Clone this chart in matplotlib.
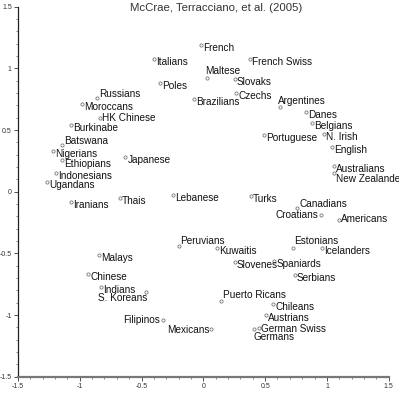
import numpy as np
import matplotlib
import matplotlib.pyplot as plt
from matplotlib.ticker import MultipleLocator, FuncFormatter

matplotlib.use("Agg")

plt.rcParams['font.family'] = ['Liberation Sans', 'DejaVu Sans']
plt.rcParams['axes.unicode_minus'] = False

# 各国名称及坐标
names = ["French", "Italians", "Maltese", "French Swiss", "Slovaks", "Poles", "Czechs",
         "Brazilians", "Argentines", "Danes", "Belgians", "Portuguese", "N. Irish", "English",
         "Australians", "New Zealanders", "Russians", "Moroccans", "HK Chinese", "Burkinabe",
         "Batswana", "Nigerians", "Ethiopians", "Japanese", "Indonesians", "Ugandans",
         "Iranians", "Thais", "Lebanese", "Turks", "Canadians", "Croatians", "Americans",
         "Peruvians", "Kuwaitis", "Estonians", "Icelanders", "Slovenes", "Spaniards",
         "Serbians", "Malays", "Chinese", "Indians", "S. Koreans", "Puerto Ricans",
         "Chileans", "Filipinos", "Austrians", "Mexicans", "German Swiss", "Germans"]
x_vals = [-0.019, -0.396, 0.028, 0.380, 0.254, -0.350, 0.265,
          -0.075, 0.618, 0.831, 0.882, 0.491, 0.977, 1.041,
          1.060, 1.060, -0.860, -0.979, -0.836, -1.070,
          -1.143, -1.214, -1.141, -0.631, -1.189, -1.262,
          -1.070, -0.674, -0.243, 0.383, 0.758, 0.950, 1.100,
          -0.194, 0.108, 0.728, 0.958, 0.254, 0.574,
          0.742, -0.841, -0.933, -0.825, -0.466, 0.146,
          0.566, -0.328, 0.505, 0.060, 0.451, 0.408]
y_vals = [1.187, 1.079, 0.925, 1.074, 0.916, 0.879, 0.803,
          0.749, 0.689, 0.649, 0.560, 0.460, 0.468, 0.360,
          0.211, 0.154, 0.760, 0.709, 0.598, 0.539,
          0.379, 0.330, 0.257, 0.284, 0.149, 0.079,
          -0.084, -0.049, -0.027, -0.032, -0.135, -0.187, -0.230,
          -0.440, -0.454, -0.454, -0.459, -0.570, -0.562,
          -0.676, -0.516, -0.670, -0.773, -0.816, -0.884,
          -0.908, -1.041, -0.998, -1.114, -1.103, -1.116]

# 标签相对点的偏移（像素），默认在点的右下方
label_offsets = {
    "Maltese": (-1.5, 7, 'left'),
    "Argentines": (-1.5, 6, 'left'),
    "New Zealanders": (1.5, -6, 'left'),
    "Russians": (2, 3.5, 'left'),
    "HK Chinese": (2, 0, 'left'),
    "Batswana": (2.5, 4, 'left'),
    "Ethiopians": (1.5, -4, 'left'),
    "Canadians": (2, 4.5, 'left'),
    "Croatians": (-2.5, 0, 'right'),
    "Americans": (1.5, 1.3, 'left'),
    "Peruvians": (1, 4.5, 'left'),
    "Estonians": (0.5, 6.5, 'left'),
    "S. Koreans": (1, -5.4, 'right'),
    "Puerto Ricans": (1.5, 5.5, 'left'),
    "Filipinos": (-2.7, 0, 'right'),
    "Mexicans": (-1.5, -1, 'right'),
    "German Swiss": (2, -1.6, 'left'),
    "Germans": (0, -7.7, 'left'),
}

fig = plt.figure(figsize=(3.99, 4.0), dpi=100)
ax = fig.add_axes([18 / 399, 23.3 / 400, 370.7 / 399, 370 / 400])

ax.plot(x_vals, y_vals, 'o', ms=2.3, mfc='none', mec='#777777', mew=0.6, clip_on=False)

for name, x, y in zip(names, x_vals, y_vals):
    dx, dy, ha = label_offsets.get(name, (2, -3, 'left'))
    ax.annotate(name, (x, y), xytext=(dx, dy), textcoords='offset pixels',
                ha=ha, va='center', fontsize=7.2, color='#111111')

ax.set_xlim(-1.5, 1.5)
ax.set_ylim(-1.5, 1.5)
ax.xaxis.set_major_locator(MultipleLocator(0.5))
ax.yaxis.set_major_locator(MultipleLocator(0.5))
ax.xaxis.set_minor_locator(MultipleLocator(0.1))
ax.yaxis.set_minor_locator(MultipleLocator(0.1))
fmt = FuncFormatter(lambda v, p: '%g' % round(v, 2))
ax.xaxis.set_major_formatter(fmt)
ax.yaxis.set_major_formatter(fmt)

for s in ['top', 'right']:
    ax.spines[s].set_visible(False)
ax.spines['left'].set_color('#222222')
ax.spines['left'].set_linewidth(0.9)
ax.spines['bottom'].set_color('#777777')
ax.spines['bottom'].set_linewidth(1.6)
ax.tick_params(which='major', length=3, width=0.6, labelsize=5, colors='#333333', pad=1.5)
ax.tick_params(which='minor', length=1.5, width=0.5, colors='#555555')

fig.text(130 / 399, 1 - 7.7 / 400, "McCrae, Terracciano, et al. (2005)",
         ha='left', va='center', fontsize=8.2, color='#333333')

plt.savefig("out.png", dpi=100)
plt.close()
